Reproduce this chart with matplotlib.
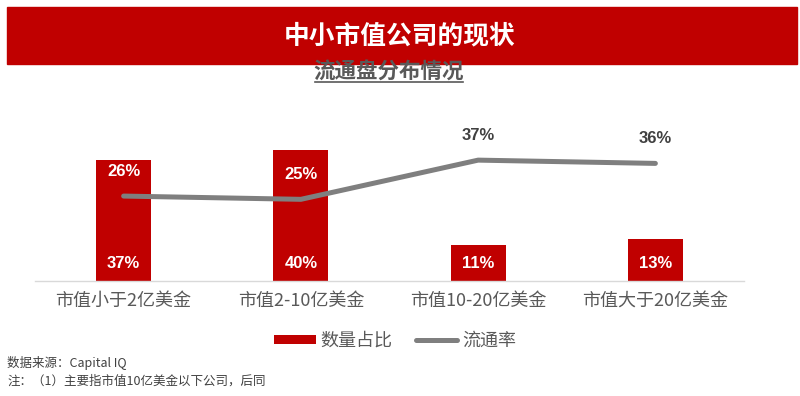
import matplotlib.pyplot as plt
from matplotlib.patches import Rectangle
from matplotlib.lines import Line2D

plt.rcParams['font.family'] = ['Noto Sans CJK SC', 'DejaVu Sans']

categories = ['市值小于2亿美金', '市值2-10亿美金', '市值10-20亿美金', '市值大于20亿美金']
count_share = [37, 40, 11, 13]      # 数量占比 (%)
float_rate = [26, 25, 37, 36]       # 流通率 (%)

RED = '#C00000'
GRAY = '#7F7F7F'
TEXT = '#595959'

fig = plt.figure(figsize=(8, 3.96), dpi=100)

# title banner
fig.patches.append(Rectangle((7 / 800, 1 - 64 / 396), 790 / 800, 57 / 396,
                             transform=fig.transFigure, color=RED, zorder=0))
fig.text(0.5, 1 - 36 / 396, '中小市值公司的现状', color='white', fontsize=18.5,
         fontweight='bold', ha='center', va='center')

# subtitle with underline
fig.text(389 / 800, 1 - 72 / 396, '流通盘分布情况', color=TEXT, fontsize=15.5,
         fontweight='bold', ha='center', va='center')
fig.add_artist(Line2D([315 / 800, 463 / 800], [1 - 82 / 396, 1 - 82 / 396],
                      transform=fig.transFigure, color=TEXT, lw=1.2))

ax = fig.add_axes([35 / 800, 115 / 396, 709 / 800, 147 / 396])
x = list(range(len(categories)))
bars = ax.bar(x, count_share, width=0.31, color=RED, zorder=2, label='数量占比')
line, = ax.plot(x, float_rate, color=GRAY, lw=3.6, zorder=3, label='流通率',
                solid_capstyle='round')

ax.set_xlim(-0.5, 3.5)
ax.set_ylim(0, 45)
ax.set_yticks([])
for s in ['top', 'right', 'left']:
    ax.spines[s].set_visible(False)
ax.spines['bottom'].set_color('#D9D9D9')
ax.spines['bottom'].set_linewidth(1)
ax.set_xticks(x)
ax.set_xticklabels(categories, fontsize=13, color=TEXT)
ax.tick_params(axis='x', length=0, pad=8)

for xi, v in zip(x, count_share):
    ax.annotate(f'{v}%', (xi, 0), xytext=(0, 17), textcoords='offset pixels',
                ha='center', va='center', color='white', fontsize=12,
                fontweight='bold', family=['Liberation Sans', 'DejaVu Sans'])

for xi, v, b in zip(x, float_rate, count_share):
    inside = v + 7 < b
    ax.annotate(f'{v}%', (xi, v), xytext=(0, 25), textcoords='offset pixels',
                ha='center', va='center', color='white' if inside else '#404040',
                fontsize=12, fontweight='bold',
                family=['Liberation Sans', 'DejaVu Sans'], zorder=4)

ax.legend([bars, line], ['数量占比', '流通率'], loc='center',
          bbox_to_anchor=(0.508, -0.408), ncol=2, frameon=False, fontsize=13,
          labelcolor=TEXT, handlelength=2.3, handleheight=0.4,
          columnspacing=1.3, handletextpad=0.25, borderaxespad=0)

fig.text(7 / 800, 1 - 363 / 396, '数据来源：Capital IQ', fontsize=9,
         color='#404040', ha='left', va='center')
fig.text(7 / 800, 1 - 381 / 396, '注：（1）主要指市值10亿美金以下公司，后同',
         fontsize=9, color='#404040', ha='left', va='center')

fig.savefig('out.png', dpi=100)
